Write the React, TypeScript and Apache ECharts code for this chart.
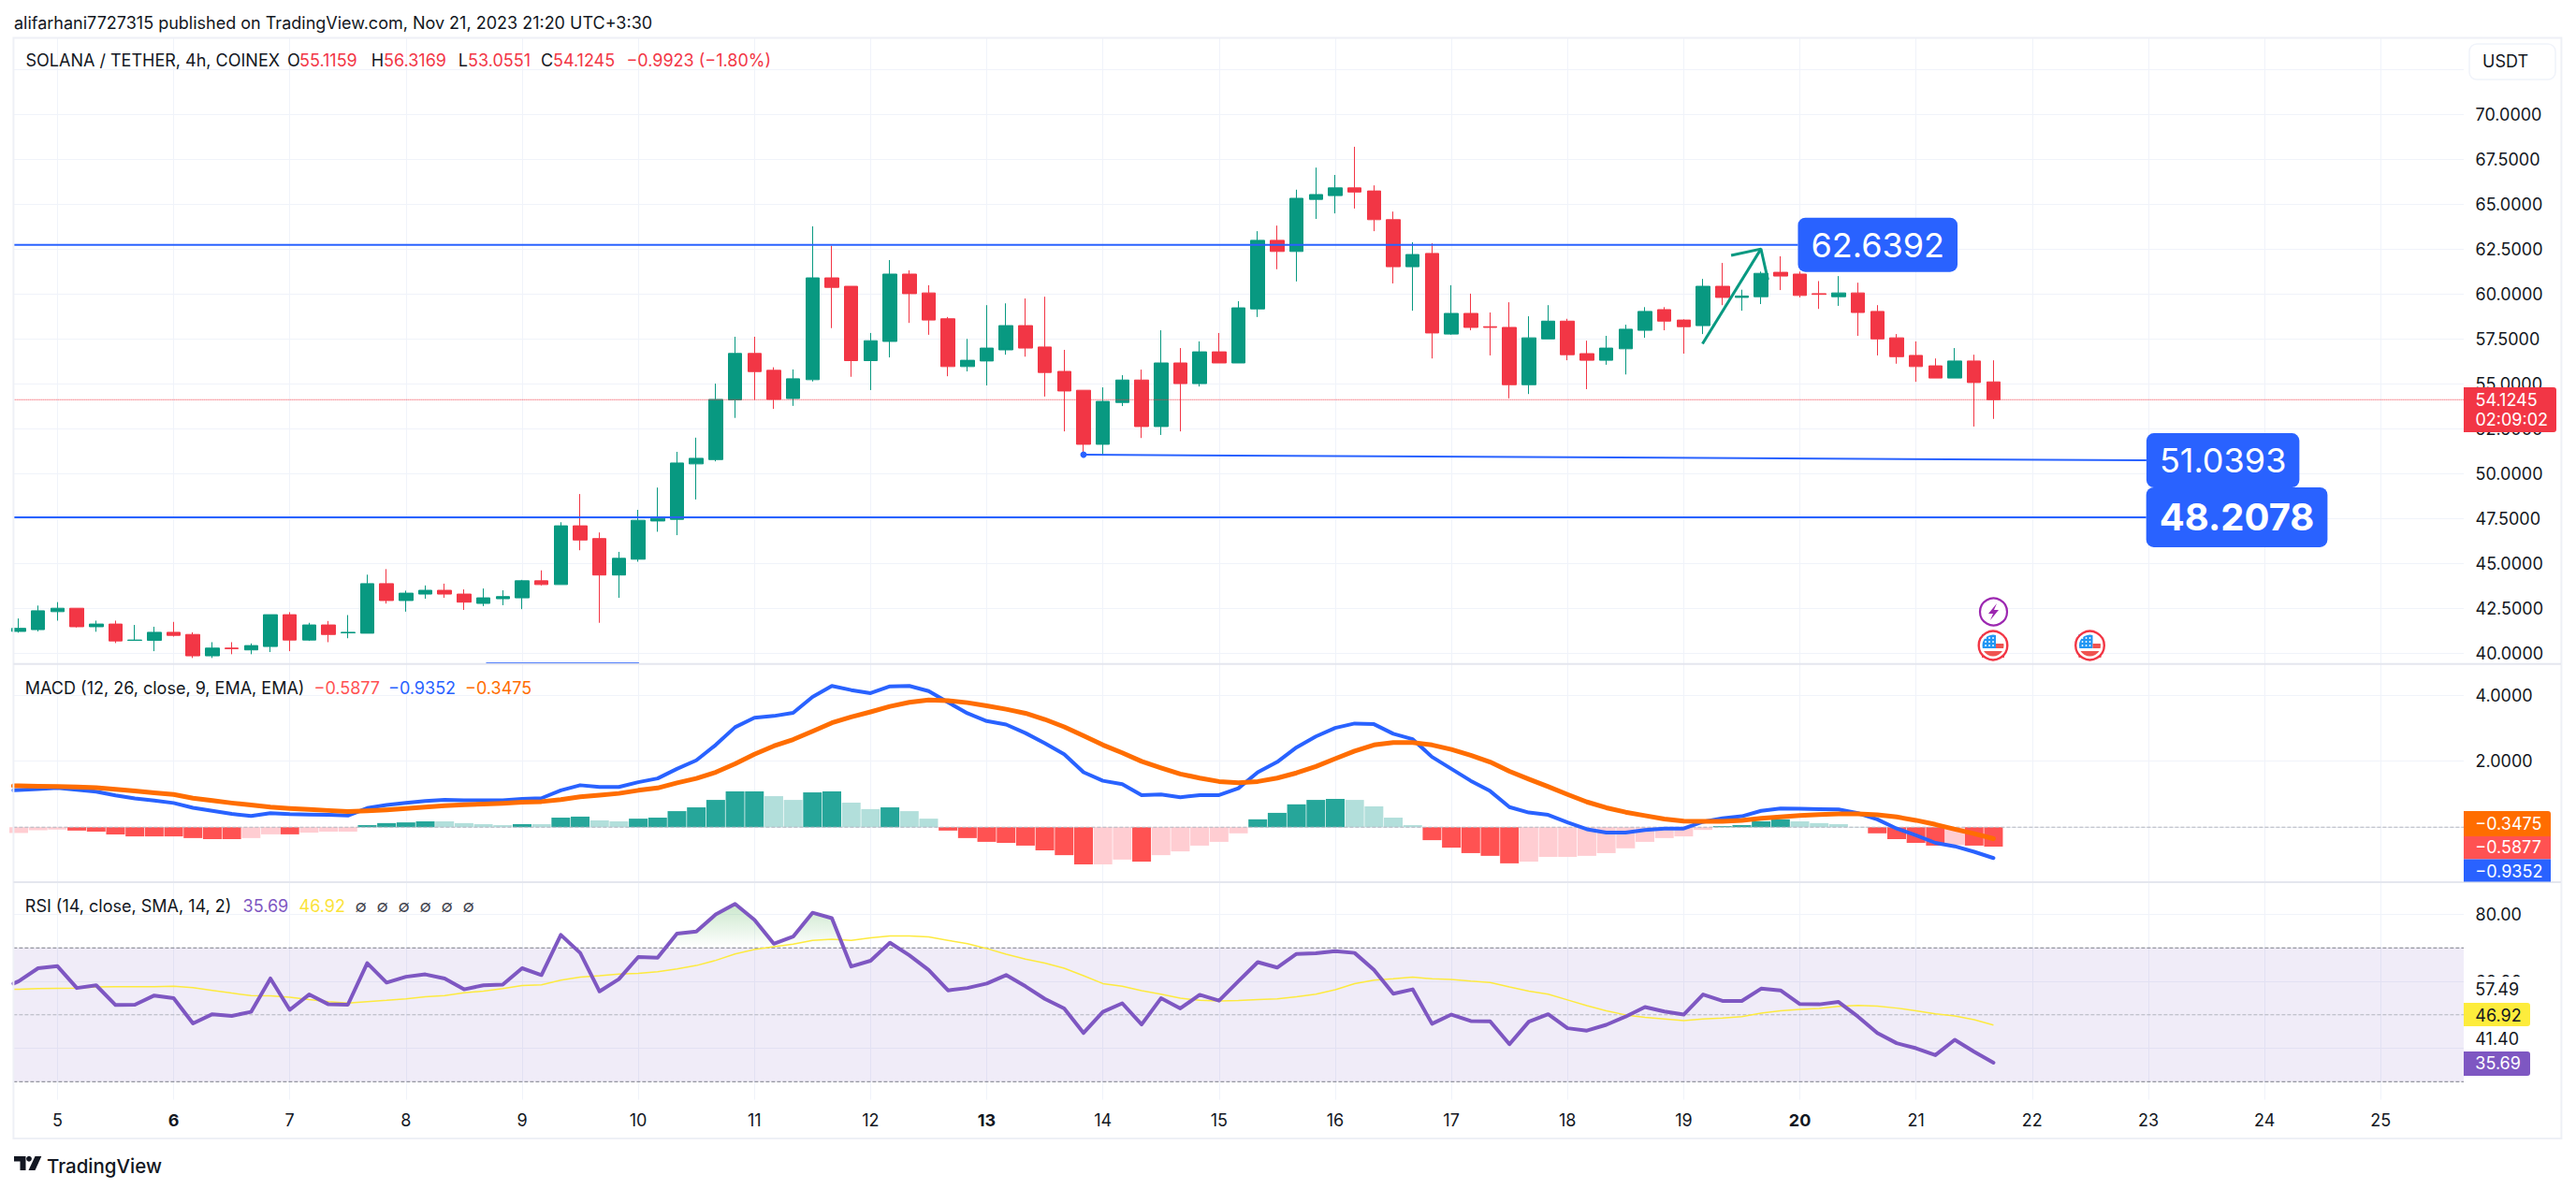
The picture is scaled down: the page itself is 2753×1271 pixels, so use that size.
import React, { useEffect, useRef } from "react";
import * as echarts from "echarts";

const FONT = "Inter";
const UP = "#089981";
const DOWN = "#f23645";
const BLUE = "#2962ff";
const ORANGE = "#ff6d00";
const PURPLE = "#7e57c2";
const YELLOW = "#fdec3c";
const GRID = "#f0f3fa";
const BORDER = "#eef0f6";
const INK = "#131722";

// 4h candles; index 0 is two bars before the "5" day tick
const opens = [41.22,41.32,42.32,42.51,41.48,41.63,40.72,40.72,41.17,41.05,39.86,40.29,40.19,40.38,42.15,40.74,41.58,41.14,41.12,43.88,42.94,43.30,43.51,43.30,42.78,43.04,43.09,44.04,43.83,47.10,46.39,44.36,45.24,47.37,47.46,50.55,50.79,54.11,56.70,55.76,54.19,55.24,60.91,60.44,56.30,57.37,61.12,60.07,58.63,55.97,56.28,56.90,58.25,57.06,55.70,54.65,51.64,53.97,55.22,52.63,56.17,55.02,56.79,56.17,59.18,63.00,62.38,65.28,65.49,65.92,65.75,64.15,61.53,62.27,57.78,58.93,58.19,58.15,54.96,57.51,58.50,56.69,56.32,56.96,57.99,59.14,58.56,58.25,60.44,59.82,59.86,61.22,61.12,60.03,59.86,60.07,59.04,57.57,56.59,56.01,55.33,56.28,55.1159];
const closes = [41.39,42.37,42.51,41.48,41.63,40.69,40.74,41.17,41.00,39.86,40.29,40.26,40.43,42.15,40.74,41.58,41.05,41.17,43.88,42.94,43.35,43.51,43.30,42.85,43.09,43.16,44.04,43.83,47.10,46.31,44.36,45.29,47.41,47.51,50.60,50.86,54.14,56.70,55.69,54.14,55.29,60.91,60.38,56.30,57.41,61.12,60.03,58.56,55.97,56.32,57.00,58.25,57.00,55.64,54.61,51.64,54.03,55.22,52.63,56.17,55.02,56.79,56.17,59.24,63.00,62.38,65.34,65.55,65.92,65.69,64.15,61.53,62.21,57.84,58.93,58.15,58.15,54.96,57.57,58.50,56.63,56.32,57.00,58.05,59.04,58.50,58.19,60.44,59.82,59.90,61.16,61.01,59.93,59.99,60.07,58.98,57.51,56.52,55.97,55.33,56.28,55.08,54.1245];
const lows = [41.15,41.22,41.82,41.44,41.20,40.57,40.70,40.12,40.93,39.74,39.74,39.95,39.95,40.07,40.12,40.69,40.62,40.84,41.12,42.77,42.32,43.04,43.09,42.42,42.63,42.68,42.46,43.78,43.83,45.74,41.70,43.09,45.10,46.77,46.58,48.57,50.69,53.11,54.11,53.61,53.78,55.14,58.11,55.40,54.66,56.48,58.40,57.74,55.43,55.70,54.92,56.63,56.52,54.30,52.36,51.06,51.06,53.77,51.99,52.16,52.36,54.86,56.17,56.17,58.73,61.39,60.71,64.19,64.50,64.77,63.51,60.60,59.08,56.42,57.74,57.99,56.59,54.20,54.44,57.51,56.32,54.71,56.07,55.53,57.57,57.99,56.69,57.78,59.39,59.08,59.45,60.23,59.82,59.18,59.35,57.68,56.59,56.13,55.12,55.33,55.33,52.63,53.0551];
const highs = [41.94,42.66,42.85,42.51,41.82,41.82,41.58,41.48,41.75,41.17,40.62,40.62,40.55,42.15,42.29,41.70,41.80,42.13,44.38,44.69,43.49,43.78,43.88,43.56,43.61,43.51,44.09,44.62,47.30,48.87,46.73,45.65,47.99,49.23,51.22,52.01,55.02,57.63,57.63,55.93,55.81,63.78,62.70,60.44,57.84,61.90,61.33,60.50,58.73,57.51,59.39,59.49,59.76,59.86,56.90,54.65,54.81,55.49,55.80,57.99,57.00,57.37,57.84,59.61,63.51,63.82,65.82,67.05,66.64,68.21,66.06,64.60,62.89,62.83,60.50,60.03,58.98,59.55,58.77,59.39,58.63,57.41,57.68,58.30,59.28,59.28,58.60,60.85,61.74,60.25,61.26,62.11,61.26,60.73,61.01,60.64,59.39,57.78,57.37,56.42,57.00,56.63,56.3169];

const macdHist = [-0.176,-0.093,-0.072,-0.103,-0.134,-0.217,-0.279,-0.279,-0.279,-0.33,-0.362,-0.362,-0.33,-0.217,-0.217,-0.165,-0.134,-0.134,0.062,0.124,0.145,0.176,0.176,0.124,0.093,0.062,0.093,0.093,0.289,0.32,0.207,0.176,0.258,0.289,0.486,0.6,0.826,1.085,1.085,0.94,0.826,1.054,1.085,0.744,0.548,0.6,0.486,0.258,-0.103,-0.33,-0.444,-0.475,-0.558,-0.702,-0.847,-1.126,-1.126,-0.981,-1.043,-0.847,-0.733,-0.558,-0.444,-0.186,0.238,0.434,0.692,0.826,0.857,0.826,0.63,0.289,0.062,-0.393,-0.62,-0.785,-0.868,-1.095,-1.043,-0.899,-0.899,-0.868,-0.785,-0.64,-0.444,-0.33,-0.279,-0.083,0.031,0.062,0.176,0.238,0.176,0.124,0.093,0.01,-0.186,-0.362,-0.475,-0.558,-0.537,-0.558,-0.5877];
// bars drawn in the pale tint (momentum fading), by bar number
const histFadedBars = [-2,-1,0,10,11,13,14,15,20,21,22,23,25,28,29,37,38,41,42,44,45,54,55,57,58,59,60,61,67,68,69,70,76,77,78,79,80,81,82,83,84,85,90,91,92,93,98];

// line arrays: first value is at the pane's left edge, then one per bar
const macdLine = [1.116,1.126,1.157,1.188,1.136,1.074,0.961,0.868,0.806,0.733,0.589,0.496,0.403,0.341,0.424,0.393,0.382,0.372,0.351,0.578,0.671,0.733,0.795,0.826,0.816,0.816,0.816,0.857,0.878,1.116,1.271,1.219,1.219,1.364,1.477,1.767,2.025,2.49,3.027,3.316,3.368,3.461,3.946,4.277,4.153,4.06,4.267,4.277,4.122,3.781,3.45,3.213,3.11,2.851,2.541,2.211,1.663,1.405,1.302,0.971,0.992,0.909,0.971,0.971,1.178,1.663,1.973,2.417,2.748,3.006,3.14,3.12,2.83,2.665,2.128,1.767,1.405,1.095,0.61,0.444,0.372,0.145,-0.062,-0.165,-0.165,-0.083,-0.041,-0.041,0.165,0.269,0.331,0.496,0.568,0.558,0.548,0.537,0.424,0.238,-0.041,-0.248,-0.475,-0.579,-0.744,-0.9352];
const signalLine = [1.25,1.25,1.24,1.229,1.219,1.198,1.147,1.095,1.043,0.992,0.878,0.806,0.733,0.671,0.61,0.568,0.537,0.506,0.475,0.496,0.527,0.568,0.61,0.651,0.682,0.702,0.723,0.754,0.775,0.837,0.919,0.971,1.023,1.116,1.188,1.343,1.477,1.663,1.921,2.211,2.459,2.655,2.903,3.161,3.337,3.492,3.657,3.781,3.853,3.833,3.771,3.678,3.574,3.45,3.264,3.037,2.769,2.49,2.252,1.994,1.798,1.612,1.488,1.384,1.343,1.384,1.488,1.643,1.839,2.076,2.304,2.49,2.562,2.562,2.49,2.355,2.18,1.973,1.694,1.457,1.229,0.992,0.764,0.589,0.455,0.351,0.248,0.186,0.176,0.176,0.207,0.269,0.31,0.351,0.382,0.403,0.403,0.372,0.31,0.207,0.083,-0.062,-0.196,-0.3475];

const rsiLine = [59.33,60.05,63.92,64.53,58.01,58.82,52.92,53.02,55.77,54.95,47.42,50.17,49.66,50.88,60.86,51.49,56.07,53.12,53.02,65.44,59.64,61.37,62.08,60.86,57.6,58.82,59.03,63.92,61.88,73.89,68.5,56.99,60.66,67.28,67.07,74.3,74.91,80,83.16,78.38,71.25,73.39,80.51,78.89,64.43,66.16,71.55,67.79,63.41,57.3,58.01,59.33,61.88,58.52,54.75,51.9,44.57,50.88,53.43,47.12,54.95,51.9,55.97,54.24,60.05,65.75,64.12,68.19,68.4,69.01,68.5,63.41,56.28,57.6,47.32,50.07,48.13,48.03,41.21,47.93,50.17,45.99,45.28,47.01,49.46,52.31,50.98,50.07,56.07,54.14,54.14,57.81,57.3,53.22,53.12,53.83,49.46,44.57,41.51,40,37.95,42.53,38.97,35.69];
const rsiSma = [57.6,57.6,57.81,57.91,58.01,58.32,58.42,58.42,58.42,58.52,58.11,57.3,56.48,55.77,55.67,55.26,54.55,53.94,53.53,53.94,54.34,54.75,55.36,55.77,56.58,57.09,57.81,58.72,58.93,60.35,61.27,61.68,62.19,62.39,62.9,63.71,64.73,66.26,68.19,69.52,70.33,71.15,72.27,72.57,72.27,72.98,73.59,73.59,73.28,72.27,71.25,69.82,68.09,66.67,65.44,63.92,61.68,59.33,58.52,57.2,56.18,54.95,54.34,54.14,54.24,54.55,54.75,55.36,56.18,57.5,59.33,60.35,60.76,61.27,60.76,60.56,60.05,59.64,58.32,57.09,56.18,54.45,52.71,51.19,49.97,49.25,48.74,48.23,48.74,49.05,49.46,50.47,51.19,51.59,51.9,52.51,52.82,52.61,52,51.19,50.27,49.66,48.54,46.92];

const dayTicks = [0,6,12,18,24,30,36,42,48,54,60,66,72,78,84,90,96,102,108,114,120];
const dayLabels = ["5","6","7","8","9","10","11","12","13","14","15","16","17","18","19","20","21","22","23","24","25"];
const boldDays = ["6","13","20"];

const priceGrid = [40,42.5,45,47.5,50,52.5,55,57.5,60,62.5,65,67.5,70,72.5];
const priceLabels = [40,42.5,45,47.5,50,52.5,55,57.5,60,62.5,65,67.5,70];
const macdTicks = [2,4];
const rsiTicks = [40,60,80];

const resistance = { from: -2.272, to: 89.9, price: 62.75, label: "62.6392" };
const support = { from: 53, to: 107.9, start: 51.06, end: 50.75, label: "51.0393" };
const floorLevel = { from: -2.272, to: 107.89, price: 47.58, label: "48.2078" };
const strayLine = { from: 22.14, to: 30.04, price: 39.46 };
const arrowShaft = [[84.97,57.24],[87.99,62.52]];
const arrowHead = [[86.45,62.16],[87.99,62.52],[88.35,60.8]];
const lastPrice = 54.1245;

const xMin = -2.272;
const xMax = 124.29;
const bars = opens.map((_, i) => i - 2);
const lineK = [xMin, ...bars];

function overboughtPoints(values: number[]) {
  const pts: number[][] = [];
  const lvl = 70;
  values.forEach((v, i) => {
    if (i > 0) {
      const p = values[i - 1];
      if ((p - lvl) * (v - lvl) < 0) {
        pts.push([lineK[i - 1] + ((lvl - p) / (v - p)) * (lineK[i] - lineK[i - 1]), lvl]);
      }
    }
    pts.push([lineK[i], Math.max(v, lvl)]);
  });
  return pts;
}

function txt(x: number, y: number, text: string, fill: string, extra: any = {}) {
  const { size = 18, weight = 400, align = "left" } = extra;
  return {
    type: "text", x, y, z: 100,
    style: { text, fill, fontFamily: FONT, fontSize: size, fontWeight: weight, align, verticalAlign: "middle" },
  };
}
function box(x: number, y: number, width: number, height: number, fill: string, r: any = 0, stroke?: string) {
  return {
    type: "rect", z: 99,
    shape: { x, y, width, height, r },
    style: stroke ? { fill, stroke, lineWidth: 1.5 } : { fill },
  };
}
function flagIcon(cx: number, cy: number) {
  const dots: any[] = [];
  for (const dx of [-8, -4, 0]) for (const dy of [-8, -4, 0]) {
    dots.push({ type: "circle", z: 100, shape: { cx: cx + dx, cy: cy + dy, r: 0.9 }, style: { fill: "#ffffff" } });
  }
  return [
    { type: "circle", z: 99, shape: { cx, cy, r: 14 }, style: { fill: "#ffffff" } },
    { type: "rect", z: 99, shape: { x: cx - 12, y: cy - 12, width: 15, height: 15 }, style: { fill: "#2196f3" } },
    { type: "rect", z: 99, shape: { x: cx + 3, y: cy - 2, width: 9, height: 5 }, style: { fill: "#ef5350" } },
    { type: "rect", z: 99, shape: { x: cx - 12, y: cy + 6, width: 24, height: 7 }, style: { fill: "#ef5350" } },
    ...dots,
    { type: "circle", z: 101, shape: { cx, cy, r: 13 }, style: { fill: "none", stroke: "#ffffff", lineWidth: 3 } },
    { type: "circle", z: 101, shape: { cx, cy, r: 15.3 }, style: { fill: "none", stroke: DOWN, lineWidth: 2.4 } },
  ];
}

function overlays() {
  return [
    // chart frame
    { type: "rect", z: 98, shape: { x: 14.4, y: 40.5, width: 2723, height: 1176.5 }, style: { fill: "none", stroke: BORDER, lineWidth: 2 } },
    { type: "line", z: 98, shape: { x1: 14.4, y1: 709.7, x2: 2737, y2: 709.7 }, style: { stroke: "#e4e6ee", lineWidth: 2 } },
    { type: "line", z: 98, shape: { x1: 14.4, y1: 943, x2: 2737, y2: 943 }, style: { stroke: "#e4e6ee", lineWidth: 2 } },

    // publish line + legends
    txt(15, 24, "alifarhani7727315 published on TradingView.com, Nov 21, 2023 21:20 UTC+3:30", INK),
    txt(27.5, 64.7, "SOLANA / TETHER, 4h, COINEX", INK),
    txt(307, 64.7, "O", INK), txt(320, 64.7, "55.1159", DOWN),
    txt(396.7, 64.7, "H", INK), txt(410, 64.7, "56.3169", DOWN),
    txt(489.7, 64.7, "L", INK), txt(500, 64.7, "53.0551", DOWN),
    txt(578, 64.7, "C", INK), txt(591, 64.7, "54.1245", DOWN),
    txt(669.4, 64.7, "\u22120.9923 (\u22121.80%)", DOWN),

    txt(26.8, 735, "MACD (12, 26, close, 9, EMA, EMA)", INK),
    txt(335.5, 735, "\u22120.5877", "#ff5252"),
    txt(415, 735, "\u22120.9352", BLUE),
    txt(497, 735, "\u22120.3475", ORANGE),

    txt(26.8, 968, "RSI (14, close, SMA, 14, 2)", INK),
    txt(259.6, 968, "35.69", PURPLE),
    txt(319.5, 968, "46.92", "#fbe33a"),
    ...[0, 1, 2, 3, 4, 5].map((i) => txt(379.5 + i * 23, 968, "\u2205", "#434651")),

    // USDT button
    box(2639, 47, 92, 38, "#ffffff", 8, GRID),
    txt(2653, 65, "USDT", INK),

    // main-scale price tag
    box(2633, 414, 99, 48, DOWN, [0, 3, 3, 0]),
    txt(2645.5, 427.8, "54.1245", "#ffffff"),
    txt(2645.5, 448.3, "02:09:02", "#ffffff"),

    // MACD scale tags
    box(2633, 867, 93, 27, ORANGE, [0, 3, 0, 0]),
    box(2633, 894, 93, 24.5, "#ff5252"),
    box(2633, 918.5, 93, 24, BLUE),
    txt(2645.3, 880.6, "\u22120.3475", "#ffffff"),
    txt(2645.3, 905.8, "\u22120.5877", "#ffffff"),
    txt(2645.3, 931.6, "\u22120.9352", "#ffffff"),

    // RSI scale tags
    box(2633, 1044, 71, 28, "#ffffff"),
    txt(2645.3, 1057.6, "57.49", INK),
    box(2633, 1072, 71, 25, YELLOW, [0, 3, 3, 0]),
    txt(2645.3, 1085, "46.92", INK),
    box(2633, 1097, 71, 27, "#ffffff"),
    txt(2645.3, 1110.4, "41.40", INK),
    box(2633, 1124, 71, 26, PURPLE, [0, 3, 3, 0]),
    txt(2645.3, 1136.8, "35.69", "#ffffff"),

    // event icons
    { type: "circle", z: 100, shape: { cx: 2130.5, cy: 654, r: 14.5 }, style: { fill: "#ffffff", stroke: "#9c27b0", lineWidth: 2.2 } },
    { type: "polygon", z: 101, shape: { points: [[2134, 645], [2125, 656], [2130, 656], [2127, 663], [2136, 652], [2131, 652]] }, style: { fill: "#9c27b0" } },
    ...flagIcon(2130, 690),
    ...flagIcon(2233.5, 690),

    // TradingView mark
    { type: "polygon", z: 100, shape: { points: [[15, 1236], [27.5, 1236], [27.5, 1251], [21.5, 1251], [21.5, 1241.5], [15, 1241.5]] }, style: { fill: INK } },
    { type: "circle", z: 100, shape: { cx: 31, cy: 1238.8, r: 2.9 }, style: { fill: INK } },
    { type: "polygon", z: 100, shape: { points: [[37.5, 1236], [44.3, 1236], [37.5, 1251], [30.5, 1251]] }, style: { fill: INK } },
    txt(50, 1246.5, "TradingView", INK, { size: 20.5, weight: 500 }),
  ];
}

function flatLine(gridIndex: number, points: number[][], color: string, width: number, type: any = "solid", extra: any = {}) {
  return {
    type: "line", xAxisIndex: gridIndex, yAxisIndex: gridIndex, data: points,
    symbol: "none", silent: true, lineStyle: { color, width, type, cap: "butt" }, ...extra,
  };
}
function endTag(text: string, size: number, weight: number, pad: number[]) {
  return {
    show: true, formatter: () => text, distance: 0, color: "#ffffff",
    fontFamily: FONT, fontSize: size, fontWeight: weight,
    backgroundColor: BLUE, borderRadius: 8, padding: pad, lineHeight: size + 2,
  };
}

function buildOption() {
  const xAxisFor = (gridIndex: number, withLabels: boolean) => ({
    type: "value", gridIndex, min: xMin, max: xMax,
    axisLine: { show: false },
    axisTick: { show: false, customValues: dayTicks },
    splitLine: { show: true, lineStyle: { color: GRID, width: 1 } },
    axisLabel: {
      show: withLabels, customValues: dayTicks, margin: 13, hideOverlap: false,
      color: INK, fontFamily: FONT, fontSize: 18,
      formatter: (v: number) => {
        const d = dayLabels[dayTicks.indexOf(v)];
        return boldDays.includes(d) ? `{b|${d}}` : d;
      },
      rich: { b: { fontFamily: FONT, fontSize: 18, fontWeight: 700, color: INK } },
    },
  });
  const yAxisFor = (gridIndex: number, min: number, max: number, grid: number[], labels: number[], digits: number) => ({
    type: "value", gridIndex, min, max, position: "right",
    axisLine: { show: false },
    axisTick: { show: false, customValues: grid },
    splitLine: { show: true, lineStyle: { color: GRID, width: 1 } },
    axisLabel: {
      customValues: labels, margin: 12.5, color: INK, fontFamily: FONT, fontSize: 18,
      showMinLabel: true, showMaxLabel: true,
      formatter: (v: number) => v.toFixed(digits),
    },
  });
  const right = 2753 - 2633;
  const faded = (k: number) => histFadedBars.includes(k);
  return {
    animation: false,
    backgroundColor: "#ffffff",
    grid: [
      { left: 14.4, right, top: 40, height: 669.7 },
      { left: 14.4, right, top: 709.7, height: 233.3 },
      { left: 14.4, right, top: 943, height: 232.6 },
    ],
    xAxis: [xAxisFor(0, false), xAxisFor(1, false), xAxisFor(2, true)],
    yAxis: [
      yAxisFor(0, 39.41, 74.3, priceGrid, priceLabels, 4),
      yAxisFor(1, -1.665, 4.945, [0, ...macdTicks], macdTicks, 4),
      yAxisFor(2, 24.6, 89.65, rsiTicks, rsiTicks, 2),
    ],
    series: [
      flatLine(0, [[xMin, lastPrice], [xMax, lastPrice]], DOWN, 1, "dotted"),
      flatLine(0, [[resistance.from, resistance.price], [resistance.to, resistance.price]], BLUE, 2, "solid", {
        endLabel: endTag(resistance.label, 36, 400, [10, 14]),
      }),
      flatLine(0, [[floorLevel.from, floorLevel.price], [floorLevel.to, floorLevel.price]], BLUE, 2, "solid", {
        endLabel: endTag(floorLevel.label, 40, 700, [11, 14]),
      }),
      flatLine(0, [[support.from, support.start], [support.to, support.end]], BLUE, 2, "solid", {
        symbol: "circle", showSymbol: true,
        symbolSize: (_: any, p: any) => (p.dataIndex === 0 ? 7 : 0),
        itemStyle: { color: BLUE },
        endLabel: endTag(support.label, 36, 400, [10, 14]),
      }),
      flatLine(0, [[strayLine.from, strayLine.price], [strayLine.to, strayLine.price]], BLUE, 1.5),
      {
        type: "candlestick", xAxisIndex: 0, yAxisIndex: 0, barWidth: 15, silent: true,
        data: bars.map((k, i) => [k, opens[i], closes[i], lows[i], highs[i]]),
        itemStyle: { color: UP, color0: DOWN, borderColor: UP, borderColor0: DOWN, borderWidth: 1 },
      },
      flatLine(0, arrowShaft, UP, 3),
      flatLine(0, arrowHead, UP, 3),

      flatLine(1, [[xMin, 0], [xMax, 0]], "#b2b5be", 1, "dashed"),
      {
        type: "bar", xAxisIndex: 1, yAxisIndex: 1, barWidth: 20, silent: true,
        data: bars.map((k, i) => {
          const v = macdHist[i];
          const color = v >= 0 ? (faded(k) ? "#b2dfdb" : "#26a69a") : faded(k) ? "#ffcdd2" : "#ff5252";
          return { value: [k, v], itemStyle: { color } };
        }),
      },
      flatLine(1, lineK.map((k, i) => [k, macdLine[i]]), BLUE, 4, "solid", { lineStyle: { color: BLUE, width: 4, cap: "round", join: "round" } }),
      flatLine(1, lineK.map((k, i) => [k, signalLine[i]]), ORANGE, 5, "solid", { lineStyle: { color: ORANGE, width: 5, cap: "round", join: "round" } }),

      flatLine(2, [[xMin, 70], [xMax, 70]], "#787b86", 1, "dashed", {
        markArea: {
          silent: true, itemStyle: { color: "rgba(126,87,194,0.115)" },
          data: [[{ xAxis: xMin, yAxis: 70 }, { xAxis: xMax, yAxis: 30 }]],
        },
      }),
      flatLine(2, [[xMin, 50], [xMax, 50]], "#b2b5be", 1, "dashed"),
      flatLine(2, [[xMin, 30], [xMax, 30]], "#787b86", 1, "dashed"),
      flatLine(2, overboughtPoints(rsiLine), "rgba(0,0,0,0)", 0, "solid", {
        areaStyle: {
          origin: 70,
          color: new echarts.graphic.LinearGradient(0, 0, 0, 1, [
            { offset: 0, color: "rgba(76,175,80,0.42)" },
            { offset: 1, color: "rgba(76,175,80,0)" },
          ]),
        },
      }),
      flatLine(2, lineK.map((k, i) => [k, rsiSma[i]]), "#fdea3f", 1.5),
      flatLine(2, lineK.map((k, i) => [k, rsiLine[i]]), PURPLE, 4, "solid", { lineStyle: { color: PURPLE, width: 4, cap: "round", join: "round" } }),
    ],
    graphic: { elements: overlays() },
  };
}

export default function App() {
  const ref = useRef<HTMLDivElement>(null);
  useEffect(() => {
    const chart = echarts.init(ref.current!, undefined, { renderer: "svg" });
    chart.setOption(buildOption() as any);
    return () => chart.dispose();
  }, []);
  return <div ref={ref} style={{ position: "fixed", left: 0, top: 0, width: 2753, height: 1271, background: "#fff" }} />;
}
